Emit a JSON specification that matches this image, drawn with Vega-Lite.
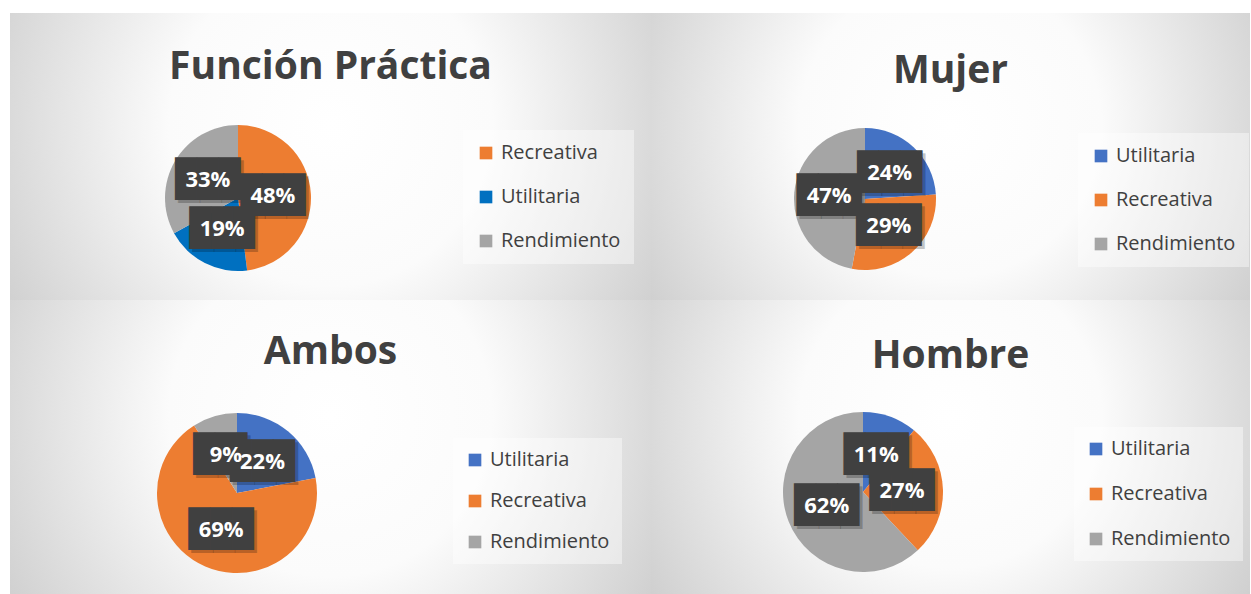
{
  "$schema": "https://vega.github.io/schema/vega-lite/v6.json",
  "background": "white",
  "padding": {"left": 10, "top": 13, "right": 0, "bottom": 0},
  "spacing": 0,
  "config": {
    "view": {"stroke": "#cfcfcf", "strokeWidth": 1},
    "title": {"font": "Open Sans", "fontSize": 39, "fontWeight": "bold", "color": "#404040", "anchor": "middle", "frame": "group", "baseline": "alphabetic"},
    "legend": {"orient": "none", "title": null, "fillColor": "rgba(255,255,255,0.42)", "padding": 13,
      "labelFont": "Open Sans", "labelFontSize": 20, "labelColor": "#404040", "labelOffset": 5,
      "symbolType": "square", "symbolSize": 160, "symbolStrokeWidth": 0, "rowPadding": 24}
  },
  "datasets": {
    "d": [
      {"panel": "fp", "cat": "Recreativa", "pct": 0.48},
      {"panel": "fp", "cat": "Utilitaria", "pct": 0.19},
      {"panel": "fp", "cat": "Rendimiento", "pct": 0.33},
      {"panel": "mu", "cat": "Utilitaria", "pct": 0.24},
      {"panel": "mu", "cat": "Recreativa", "pct": 0.29},
      {"panel": "mu", "cat": "Rendimiento", "pct": 0.47},
      {"panel": "am", "cat": "Utilitaria", "pct": 0.22},
      {"panel": "am", "cat": "Recreativa", "pct": 0.69},
      {"panel": "am", "cat": "Rendimiento", "pct": 0.09},
      {"panel": "ho", "cat": "Utilitaria", "pct": 0.11},
      {"panel": "ho", "cat": "Recreativa", "pct": 0.27},
      {"panel": "ho", "cat": "Rendimiento", "pct": 0.62}
    ],
    "bg": [{"k": 1}]
  },
  "resolve": {"scale": {"color": "independent", "theta": "independent"}, "legend": {"color": "independent"}},
  "vconcat": [
    {
      "spacing": 0,
      "resolve": {"scale": {"color": "independent", "theta": "independent"}, "legend": {"color": "independent"}},
      "hconcat": [
        {
          "width": 641, "height": 287,
          "title": {"text": "Función Práctica", "offset": -74},
          "layer": [
            {"data": {"name": "bg"}, "mark": {"type": "rect", "color": {"gradient": "radial", "x1": 0.5, "y1": 0.45, "r1": 0, "x2": 0.5, "y2": 0.45, "r2": 0.72,
              "stops": [{"offset": 0, "color": "#ffffff"}, {"offset": 0.35, "color": "#fbfbfb"}, {"offset": 1, "color": "#bdbdbd"}]}}, "encoding": {}},
            {
              "data": {"name": "d"},
              "transform": [{"filter": "datum.panel == 'fp'"}, {"window": [{"op": "row_number", "as": "n"}]}],
              "encoding": {
                "theta": {"field": "pct", "type": "quantitative", "stack": true},
                "order": {"field": "n", "type": "quantitative"}
              },
              "layer": [
                {"mark": {"type": "arc", "outerRadius": 73, "x": 228, "y": 185},
                 "encoding": {"color": {"field": "cat", "type": "nominal",
                   "scale": {"domain": ["Recreativa", "Utilitaria", "Rendimiento"], "range": ["#ED7D31", "#0070C0", "#A5A5A5"]},
                   "legend": {"legendX": 453, "legendY": 117}}}},
                {"mark": {"type": "text", "x": 228, "y": 185, "radius": 35, "dx": 3, "dy": 3, "font": "DejaVu Sans Mono", "fontSize": 36, "color": "rgba(0,0,0,0.22)", "align": "center", "baseline": "middle"},
                 "encoding": {"text": {"condition": {"test": "datum.pct < 0.1", "value": "██▌"}, "value": "███"}}},
                {"mark": {"type": "text", "x": 228, "y": 185, "radius": 35, "font": "DejaVu Sans Mono", "fontSize": 36, "color": "#404040", "align": "center", "baseline": "middle"},
                 "encoding": {"text": {"condition": {"test": "datum.pct < 0.1", "value": "██▌"}, "value": "███"}}},
                {"mark": {"type": "text", "x": 228, "y": 185, "radius": 35, "font": "Open Sans", "fontWeight": "bold", "fontSize": 22, "color": "white", "align": "center", "baseline": "middle"},
                 "encoding": {"text": {"field": "pct", "type": "quantitative", "format": ".0%"}}}
              ]
            }
          ]
        },
        {
          "width": 599, "height": 287,
          "title": {"text": "Mujer", "offset": -78},
          "layer": [
            {"data": {"name": "bg"}, "mark": {"type": "rect", "color": {"gradient": "radial", "x1": 0.5, "y1": 0.45, "r1": 0, "x2": 0.5, "y2": 0.45, "r2": 0.72,
              "stops": [{"offset": 0, "color": "#ffffff"}, {"offset": 0.35, "color": "#fbfbfb"}, {"offset": 1, "color": "#bdbdbd"}]}}, "encoding": {}},
            {
              "data": {"name": "d"},
              "transform": [{"filter": "datum.panel == 'mu'"}, {"window": [{"op": "row_number", "as": "n"}]}],
              "encoding": {
                "theta": {"field": "pct", "type": "quantitative", "stack": true},
                "order": {"field": "n", "type": "quantitative"}
              },
              "layer": [
                {"mark": {"type": "arc", "outerRadius": 71, "x": 214, "y": 186},
                 "encoding": {"color": {"field": "cat", "type": "nominal",
                   "scale": {"domain": ["Utilitaria", "Recreativa", "Rendimiento"], "range": ["#4472C4", "#ED7D31", "#A5A5A5"]},
                   "legend": {"legendX": 427, "legendY": 120}}}},
                {"mark": {"type": "text", "x": 214, "y": 186, "radius": 36, "dx": 3, "dy": 3, "font": "DejaVu Sans Mono", "fontSize": 36, "color": "rgba(0,0,0,0.22)", "align": "center", "baseline": "middle"},
                 "encoding": {"text": {"condition": {"test": "datum.pct < 0.1", "value": "██▌"}, "value": "███"}}},
                {"mark": {"type": "text", "x": 214, "y": 186, "radius": 36, "font": "DejaVu Sans Mono", "fontSize": 36, "color": "#404040", "align": "center", "baseline": "middle"},
                 "encoding": {"text": {"condition": {"test": "datum.pct < 0.1", "value": "██▌"}, "value": "███"}}},
                {"mark": {"type": "text", "x": 214, "y": 186, "radius": 36, "font": "Open Sans", "fontWeight": "bold", "fontSize": 22, "color": "white", "align": "center", "baseline": "middle"},
                 "encoding": {"text": {"field": "pct", "type": "quantitative", "format": ".0%"}}}
              ]
            }
          ]
        }
      ]
    },
    {
      "spacing": 0,
      "resolve": {"scale": {"color": "independent", "theta": "independent"}, "legend": {"color": "independent"}},
      "hconcat": [
        {
          "width": 641, "height": 294,
          "title": {"text": "Ambos", "offset": -72},
          "layer": [
            {"data": {"name": "bg"}, "mark": {"type": "rect", "color": {"gradient": "radial", "x1": 0.5, "y1": 0.45, "r1": 0, "x2": 0.5, "y2": 0.45, "r2": 0.72,
              "stops": [{"offset": 0, "color": "#ffffff"}, {"offset": 0.35, "color": "#fbfbfb"}, {"offset": 1, "color": "#bdbdbd"}]}}, "encoding": {}},
            {
              "data": {"name": "d"},
              "transform": [{"filter": "datum.panel == 'am'"}, {"window": [{"op": "row_number", "as": "n"}]}],
              "encoding": {
                "theta": {"field": "pct", "type": "quantitative", "stack": true},
                "order": {"field": "n", "type": "quantitative"}
              },
              "layer": [
                {"mark": {"type": "arc", "outerRadius": 80, "x": 227, "y": 193},
                 "encoding": {"color": {"field": "cat", "type": "nominal",
                   "scale": {"domain": ["Utilitaria", "Recreativa", "Rendimiento"], "range": ["#4472C4", "#ED7D31", "#A5A5A5"]},
                   "legend": {"legendX": 443, "legendY": 138, "rowPadding": 21, "padding": 12}}}},
                {"mark": {"type": "text", "x": 227, "y": 193, "radius": 40, "dx": 3, "dy": 3, "font": "DejaVu Sans Mono", "fontSize": 36, "color": "rgba(0,0,0,0.22)", "align": "center", "baseline": "middle"},
                 "encoding": {"text": {"condition": {"test": "datum.pct < 0.1", "value": "██▌"}, "value": "███"}}},
                {"mark": {"type": "text", "x": 227, "y": 193, "radius": 40, "font": "DejaVu Sans Mono", "fontSize": 36, "color": "#404040", "align": "center", "baseline": "middle"},
                 "encoding": {"text": {"condition": {"test": "datum.pct < 0.1", "value": "██▌"}, "value": "███"}}},
                {"mark": {"type": "text", "x": 227, "y": 193, "radius": 40, "font": "Open Sans", "fontWeight": "bold", "fontSize": 22, "color": "white", "align": "center", "baseline": "middle"},
                 "encoding": {"text": {"field": "pct", "type": "quantitative", "format": ".0%"}}}
              ]
            }
          ]
        },
        {
          "width": 599, "height": 294,
          "title": {"text": "Hombre", "offset": -76},
          "layer": [
            {"data": {"name": "bg"}, "mark": {"type": "rect", "color": {"gradient": "radial", "x1": 0.5, "y1": 0.45, "r1": 0, "x2": 0.5, "y2": 0.45, "r2": 0.72,
              "stops": [{"offset": 0, "color": "#ffffff"}, {"offset": 0.35, "color": "#fbfbfb"}, {"offset": 1, "color": "#bdbdbd"}]}}, "encoding": {}},
            {
              "data": {"name": "d"},
              "transform": [{"filter": "datum.panel == 'ho'"}, {"window": [{"op": "row_number", "as": "n"}]}],
              "encoding": {
                "theta": {"field": "pct", "type": "quantitative", "stack": true},
                "order": {"field": "n", "type": "quantitative"}
              },
              "layer": [
                {"mark": {"type": "arc", "outerRadius": 80, "x": 212, "y": 192},
                 "encoding": {"color": {"field": "cat", "type": "nominal",
                   "scale": {"domain": ["Utilitaria", "Recreativa", "Rendimiento"], "range": ["#4472C4", "#ED7D31", "#A5A5A5"]},
                   "legend": {"legendX": 423, "legendY": 127, "rowPadding": 25, "padding": 12}}}},
                {"mark": {"type": "text", "x": 212, "y": 192, "radius": 39, "dx": 3, "dy": 3, "font": "DejaVu Sans Mono", "fontSize": 36, "color": "rgba(0,0,0,0.22)", "align": "center", "baseline": "middle"},
                 "encoding": {"text": {"condition": {"test": "datum.pct < 0.1", "value": "██▌"}, "value": "███"}}},
                {"mark": {"type": "text", "x": 212, "y": 192, "radius": 39, "font": "DejaVu Sans Mono", "fontSize": 36, "color": "#404040", "align": "center", "baseline": "middle"},
                 "encoding": {"text": {"condition": {"test": "datum.pct < 0.1", "value": "██▌"}, "value": "███"}}},
                {"mark": {"type": "text", "x": 212, "y": 192, "radius": 39, "font": "Open Sans", "fontWeight": "bold", "fontSize": 22, "color": "white", "align": "center", "baseline": "middle"},
                 "encoding": {"text": {"field": "pct", "type": "quantitative", "format": ".0%"}}}
              ]
            }
          ]
        }
      ]
    }
  ]
}
